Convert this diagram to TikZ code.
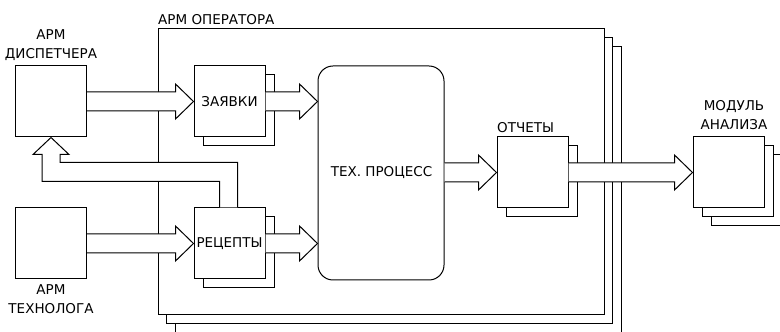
\documentclass[tikz,border=0pt]{standalone}
\usepackage{fontspec}
\setmainfont{DejaVu Sans}
\usetikzlibrary{calc,shadows}
\tikzset{
  line/.style={draw=black,line width=1pt},
  box/.style={line,fill=white,rectangle,minimum width=71pt,minimum height=71pt,inner sep=0pt},
  shadowbox/.style={box,copy shadow={shadow xshift=9pt,shadow yshift=-9pt,draw=black,fill=white,line width=1pt}},
  dshadowbox/.style={box,double copy shadow={shadow xshift=9pt,shadow yshift=-9pt,draw=black,fill=white,line width=1pt}},
  lbl/.style={inner sep=0pt,align=center,font=\fontsize{13.5}{19.5}\selectfont},
  arrowline/.style={line,fill=white,line join=miter}
}
\newcommand\blockarrowh[2]{%
  \draw[arrowline] let \p1=(#1), \p2=(#2) in
    (\x1,\y2+9.5pt) -- (\x2-18pt,\y2+9.5pt) -- (\x2-18pt,\y2+17.5pt) -- (\x2,\y2)
    -- (\x2-18pt,\y2-17.5pt) -- (\x2-18pt,\y2-9.5pt) -- (\x1,\y2-9.5pt);}
\begin{document}
\begin{tikzpicture}[x=1pt,y=1pt]
\useasboundingbox (0,0) rectangle (780,332);
\clip (0,0) rectangle (780,332);
\fill[white] (0,0) rectangle (780,332);
% operator frame with two copies behind
\node[line,fill=white,rectangle,inner sep=0pt,minimum width=446pt,minimum height=286pt,
  double copy shadow={shadow xshift=8.5pt,shadow yshift=-9pt,draw=black,fill=white,line width=1pt}]
  (op) at (381,160) {};
\node[lbl,anchor=west] (opl) at (158,312.5) {АРМ ОПЕРАТОРА};
% boxes
\node[box] (disp) at (51,230.5) {};
\node[box] (tech) at (51,88.5) {};
\node[shadowbox] (zay) at (229.5,230.5) {};
\node[shadowbox] (rec) at (229.5,88.5) {};
\node[line,fill=white,rectangle,rounded corners=15pt,minimum width=126pt,minimum height=214pt,inner sep=0pt] (proc) at (381,159) {};
\node[shadowbox] (ot) at (532.5,159.5) {};
\node[dshadowbox] (mod) at (728.5,159.5) {};
% block arrows
\blockarrowh{disp.east}{zay.west}
\blockarrowh{tech.east}{rec.west}
\blockarrowh{zay.east}{proc.west |- zay.east}
\blockarrowh{rec.east}{proc.west |- rec.east}
\blockarrowh{proc.east}{ot.west}
\blockarrowh{ot.east}{mod.west}
% return arrow from recipes to dispatcher
\draw[arrowline] let \p1=(rec.north west), \p2=(disp.south) in
  (\x1+44pt,\y1) -- (\x1+44pt,\y1+45pt) -- (\x2+9pt,\y1+45pt) -- (\x2+9pt,\y2-17pt)
  -- (\x2+18pt,\y2-17pt) -- (\x2,\y2) -- (\x2-18pt,\y2-17pt) -- (\x2-9pt,\y2-17pt)
  -- (\x2-9pt,\y1+26pt) -- (\x1+26pt,\y1+26pt) -- (\x1+26pt,\y1);
% texts
\node[lbl] (zayt) at (zay) {ЗАЯВКИ};
\node[lbl] (rect) at (rec) {РЕЦЕПТЫ};
\node[lbl] (proct) at (381.5,159) {ТЕХ. ПРОЦЕСС};
\node[lbl] (displ) at (51,286.75) {АРМ\\ДИСПЕТЧЕРА};
\node[lbl] (techl) at (51,32.75) {АРМ\\ТЕХНОЛОГА};
\node[lbl,anchor=west] (otl) at (497,204.5) {ОТЧЕТЫ};
\node[lbl] (modl) at (734,216.75) {МОДУЛЬ\\АНАЛИЗА};
\end{tikzpicture}
\end{document}
